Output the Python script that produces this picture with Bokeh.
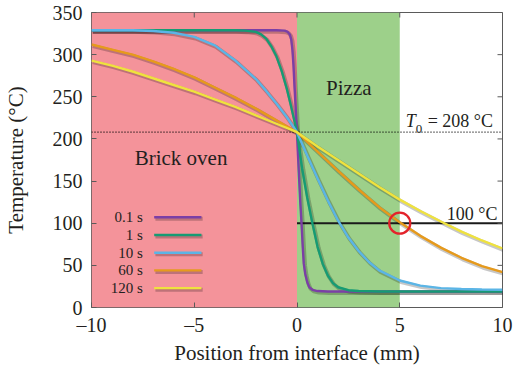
import math
from bokeh.plotting import figure
from bokeh.models import BoxAnnotation, Label, FixedTicker, Range1d
from bokeh.embed import file_html
from bokeh.resources import INLINE

# ---------------- data ----------------
x_01 = [-10, -2, -1, -0.6, -0.45, -0.35, -0.28, -0.22, -0.17, -0.12, -0.08, -0.04, 0,
        0.05, 0.1, 0.16, 0.22, 0.28, 0.33, 0.4, 0.5, 0.6, 0.75, 1.0, 1.5, 3, 10]
T_01 = [329, 329, 329, 328.5, 327, 324, 318, 305, 287, 262, 244, 226, 208,
        180, 155, 125, 100, 72, 52, 40, 30, 24, 21, 19.5, 19, 19, 19]

x_1 = [-10, -3, -2.5, -2, -1.75, -1.5, -1.25, -1, -0.75, -0.5, -0.3, -0.15, 0,
       0.1, 0.25, 0.5, 0.75, 1.0, 1.25, 1.5, 1.75, 2, 2.5, 3, 4, 10]
T_1 = [329, 329, 328.5, 327, 324, 319, 310, 298, 281, 260, 240, 224, 208,
       190, 165, 130, 100, 72, 52, 38, 29, 24, 20.5, 19.5, 19, 19]

x_10 = [-10, -8, -7, -6, -5, -4, -3, -2, -1.5, -1, -0.5, 0,
        0.5, 1, 1.5, 2, 2.5, 3, 3.5, 4, 5, 6, 7, 8, 9, 10]
T_10 = [329, 329, 328, 326, 321, 311, 293, 271, 257, 242, 226, 208,
        180, 153, 127, 103, 83, 67, 54, 44, 32, 26, 23, 22, 21.3, 21]

x_60 = [-10, -9, -8, -7, -6, -5, -4, -3, -2, -1, 0, 1, 2, 3, 4, 5, 6, 7, 8, 9, 10]
T_60 = [312, 306, 300, 292, 283, 273, 261, 249, 236, 222, 208,
        185, 162, 140, 119, 101, 85, 71, 59, 49, 42]

x_120 = [-10, -9, -8, -7, -6, -5, -4, -3, -2, -1, 0, 1, 2, 3, 4, 5, 6, 7, 8, 9, 10]
T_120 = [293, 287, 280, 272, 264, 256, 247, 238, 228, 218, 208,
         191, 175, 159, 143, 128, 114.5, 102, 90, 79.5, 70]

series_x = [x_01, x_1, x_10, x_60, x_120]
series_T = [T_01, T_1, T_10, T_60, T_120]
series_labels = ["0.1 s", "1 s", "10 s", "60 s", "120 s"]
series_colors = ["#7B3FA6", "#169B74", "#5BB5E6", "#E69A1C", "#EFE23E"]

T0 = 208
T_target = 100
oven_span = (-10, 0)
pizza_span = (0, 5)
marker_point = (5, 100)

x_lim = (-10, 10)
y_lim = (0, 350)
x_ticks = [-10, -5, 0, 5, 10]
x_tick_labels = {-10: "\u201310", -5: "\u20135", 0: "0", 5: "5", 10: "10"}
y_ticks = [0, 50, 100, 150, 200, 250, 300, 350]

FONT = "Liberation Serif"
TXT = "#231f20"
FRAME = "#5a5a5a"

# ---------------- figure ----------------
p = figure(width=513, height=367, x_range=Range1d(*x_lim), y_range=Range1d(*y_lim),
           output_backend="svg", toolbar_location=None,
           min_border_left=90, min_border_right=11, min_border_top=12, min_border_bottom=60)
p.background_fill_color = "white"
p.border_fill_color = "white"
p.grid.visible = False
p.outline_line_color = FRAME
p.outline_line_width = 1

# regions
p.add_layout(BoxAnnotation(left=oven_span[0], right=oven_span[1], fill_color="#F4939A",
                           fill_alpha=1, line_alpha=0, level="underlay"))
p.add_layout(BoxAnnotation(left=pizza_span[0], right=pizza_span[1], fill_color="#9DD08A",
                           fill_alpha=1, line_alpha=0, level="underlay"))

# shadow ranges (shift a pixel or two down/right)
p.extra_x_ranges = {"sh": Range1d(x_lim[0] - 0.06, x_lim[1] - 0.06)}
p.extra_y_ranges = {"sh": Range1d(y_lim[0] + 1.8, y_lim[1] + 1.8)}

# T0 dotted line and 100 C line
p.line(list(x_lim), [T0, T0], line_color="black", line_width=1.3, line_dash="1 2")
p.line([0, x_lim[1]], [T_target, T_target], line_color="#1a1a1a", line_width=2)

# curves with soft shadows
for xs, ts in zip(series_x, series_T):
    p.line(xs, ts, line_color="black", line_alpha=0.22, line_width=4,
           x_range_name="sh", y_range_name="sh")
for xs, ts, c in zip(series_x, series_T, series_colors):
    p.line(xs, ts, line_color=c, line_width=2.4)

# red circle at the crossing
p.scatter([marker_point[0]], [marker_point[1]], marker="circle", size=21,
          fill_alpha=0, line_color="#E3232B", line_width=2.3)

# mirrored inward ticks on top and right edges
p.scatter(x_ticks, [y_lim[1]] * len(x_ticks), marker="dash", angle=math.pi / 2, size=10,
          line_color=FRAME, line_width=1)
p.scatter([x_lim[1]] * len(y_ticks), y_ticks, marker="dash", size=10,
          line_color=FRAME, line_width=1)

# legend (manual)
leg_top = 107
leg_step = 21
for i, (lab, c) in enumerate(zip(series_labels, series_colors)):
    yy = leg_top - leg_step * i
    p.line([-6.95, -4.65], [yy, yy], line_color="black", line_alpha=0.22, line_width=4,
           x_range_name="sh", y_range_name="sh")
    p.line([-6.95, -4.65], [yy, yy], line_color=c, line_width=2.4)
    p.add_layout(Label(x=-7.5, y=yy, text=lab, text_align="right", text_baseline="middle",
                       text_font=FONT, text_font_size="15px", text_color=TXT))

# annotations
p.add_layout(Label(x=-7.9, y=177, text="Brick oven", text_font=FONT, text_font_size="21px",
                   text_color=TXT, text_baseline="alphabetic"))
p.add_layout(Label(x=2.52, y=261, text="Pizza", text_font=FONT, text_font_size="21px",
                   text_color=TXT, text_align="center", text_baseline="alphabetic"))
p.add_layout(Label(x=5.29, y=221, text="T", text_font=FONT, text_font_size="18px",
                   text_font_style="italic", text_color=TXT, text_baseline="alphabetic"))
p.add_layout(Label(x=5.78, y=212, text="0", text_font=FONT, text_font_size="13px",
                   text_color=TXT, text_baseline="alphabetic"))
p.add_layout(Label(x=6.36, y=221, text="= 208 \u00b0C", text_font=FONT, text_font_size="18px",
                   text_color=TXT, text_baseline="alphabetic"))
p.add_layout(Label(x=9.76, y=111, text="100 \u00b0C", text_font=FONT, text_font_size="18px",
                   text_color=TXT, text_align="right", text_baseline="alphabetic"))

# axes
for ax in p.xaxis:
    ax.ticker = FixedTicker(ticks=x_ticks)
    ax.major_label_overrides = x_tick_labels
for ax in p.yaxis:
    ax.ticker = FixedTicker(ticks=y_ticks)

for ax in list(p.xaxis) + list(p.yaxis):
    ax.major_tick_in = 5
    ax.major_tick_out = 0
    ax.minor_tick_in = 0
    ax.minor_tick_out = 0
    ax.major_tick_line_color = FRAME
    ax.axis_line_color = None
    ax.major_label_text_font = FONT
    ax.major_label_text_font_size = "20px"
    ax.major_label_text_color = TXT
    ax.axis_label_text_font = FONT
    ax.axis_label_text_font_size = "21px"
    ax.axis_label_text_font_style = "normal"
    ax.axis_label_text_color = TXT

p.xaxis.axis_label = "Position from interface (mm)"
p.yaxis.axis_label = "Temperature (\u00b0C)"
p.xaxis.major_label_standoff = 6
p.xaxis.axis_label_standoff = 2
p.yaxis.major_label_standoff = 9
p.yaxis.axis_label_standoff = 22

open("out.html", "w").write(file_html(p, INLINE))
